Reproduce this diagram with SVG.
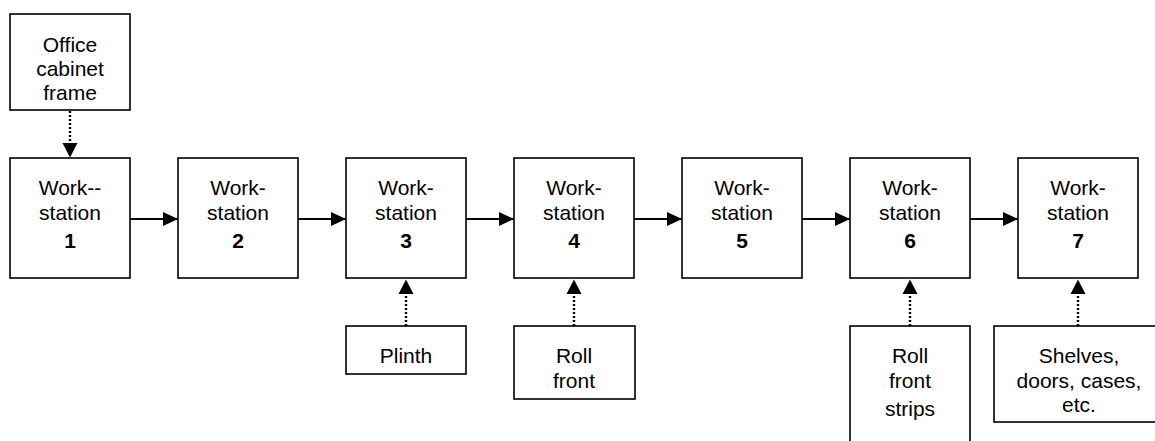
<svg xmlns="http://www.w3.org/2000/svg" width="1155" height="441" viewBox="0 0 1155 441">
  <defs>
    <style>
      .box { fill: #fff; stroke: #000; stroke-width: 1.6; }
      .lbl { font-family: "Liberation Sans", Arial, sans-serif; font-size: 21px; fill: #000; text-anchor: middle; }
      .num { font-weight: bold; }
      .flow { stroke: #000; stroke-width: 1.8; fill: none; }
      .feed { stroke: #000; stroke-width: 2.4; stroke-dasharray: 2 2; fill: none; }
    </style>
    <marker id="head" viewBox="0 0 15 14" refX="15" refY="7" markerWidth="15" markerHeight="14" markerUnits="userSpaceOnUse" orient="auto">
      <path d="M0,0 L15,7 L0,14 Z" fill="#000"/>
    </marker>
  </defs>
  <rect width="1155" height="441" fill="#fff"/>

  <!-- connectors -->
  <g id="connectors">
    <line class="flow" x1="130" y1="219" x2="178" y2="219" marker-end="url(#head)"/>
    <line class="flow" x1="298" y1="219" x2="346" y2="219" marker-end="url(#head)"/>
    <line class="flow" x1="466" y1="219" x2="514" y2="219" marker-end="url(#head)"/>
    <line class="flow" x1="634" y1="219" x2="682" y2="219" marker-end="url(#head)"/>
    <line class="flow" x1="802" y1="219" x2="850" y2="219" marker-end="url(#head)"/>
    <line class="flow" x1="970" y1="219" x2="1018" y2="219" marker-end="url(#head)"/>
    <!-- dotted feeds -->
    <line class="feed" x1="70" y1="111" x2="70" y2="143"/>
    <path d="M62.5,143 L77.5,143 L70,157.5 Z" fill="#000"/>
    <line class="feed" x1="406" y1="326" x2="406" y2="294"/>
    <path d="M398.5,294 L413.5,294 L406,279.5 Z" fill="#000"/>
    <line class="feed" x1="574" y1="326" x2="574" y2="294"/>
    <path d="M566.5,294 L581.5,294 L574,279.5 Z" fill="#000"/>
    <line class="feed" x1="910" y1="326" x2="910" y2="294"/>
    <path d="M902.5,294 L917.5,294 L910,279.5 Z" fill="#000"/>
    <line class="feed" x1="1078" y1="326" x2="1078" y2="294"/>
    <path d="M1070.5,294 L1085.5,294 L1078,279.5 Z" fill="#000"/>
  </g>

  <!-- input: cabinet frame -->
  <g id="frame">
    <rect class="box" x="10" y="14" width="120" height="96"/>
    <text class="lbl" x="70" y="52">Office</text>
    <text class="lbl" x="70" y="76">cabinet</text>
    <text class="lbl" x="70" y="100">frame</text>
  </g>

  <!-- workstations -->
  <g id="ws1">
    <rect class="box" x="10" y="158" width="120" height="120"/>
    <text class="lbl" x="70" y="195">Work--</text>
    <text class="lbl" x="70" y="220">station</text>
    <text class="lbl num" x="70" y="248">1</text>
  </g>
  <g id="ws2">
    <rect class="box" x="178" y="158" width="120" height="120"/>
    <text class="lbl" x="238" y="195">Work-</text>
    <text class="lbl" x="238" y="220">station</text>
    <text class="lbl num" x="238" y="248">2</text>
  </g>
  <g id="ws3">
    <rect class="box" x="346" y="158" width="120" height="120"/>
    <text class="lbl" x="406" y="195">Work-</text>
    <text class="lbl" x="406" y="220">station</text>
    <text class="lbl num" x="406" y="248">3</text>
  </g>
  <g id="ws4">
    <rect class="box" x="514" y="158" width="120" height="120"/>
    <text class="lbl" x="574" y="195">Work-</text>
    <text class="lbl" x="574" y="220">station</text>
    <text class="lbl num" x="574" y="248">4</text>
  </g>
  <g id="ws5">
    <rect class="box" x="682" y="158" width="120" height="120"/>
    <text class="lbl" x="742" y="195">Work-</text>
    <text class="lbl" x="742" y="220">station</text>
    <text class="lbl num" x="742" y="248">5</text>
  </g>
  <g id="ws6">
    <rect class="box" x="850" y="158" width="120" height="120"/>
    <text class="lbl" x="910" y="195">Work-</text>
    <text class="lbl" x="910" y="220">station</text>
    <text class="lbl num" x="910" y="248">6</text>
  </g>
  <g id="ws7">
    <rect class="box" x="1018" y="158" width="120" height="120"/>
    <text class="lbl" x="1078" y="195">Work-</text>
    <text class="lbl" x="1078" y="220">station</text>
    <text class="lbl num" x="1078" y="248">7</text>
  </g>

  <!-- parts fed in from below -->
  <g id="plinth">
    <rect class="box" x="346" y="326" width="120" height="48"/>
    <text class="lbl" x="406" y="363">Plinth</text>
  </g>
  <g id="rollfront">
    <rect class="box" x="514" y="326" width="121" height="73"/>
    <text class="lbl" x="574" y="363">Roll</text>
    <text class="lbl" x="574" y="388">front</text>
  </g>
  <g id="strips">
    <rect class="box" x="850" y="326" width="120" height="130"/>
    <text class="lbl" x="910" y="363">Roll</text>
    <text class="lbl" x="910" y="388">front</text>
    <text class="lbl" x="910" y="416">strips</text>
  </g>
  <g id="shelves">
    <rect class="box" x="994" y="326" width="168" height="96"/>
    <text class="lbl" x="1079" y="363">Shelves,</text>
    <text class="lbl" x="1079" y="388">doors, cases,</text>
    <text class="lbl" x="1079" y="412">etc.</text>
  </g>
</svg>
